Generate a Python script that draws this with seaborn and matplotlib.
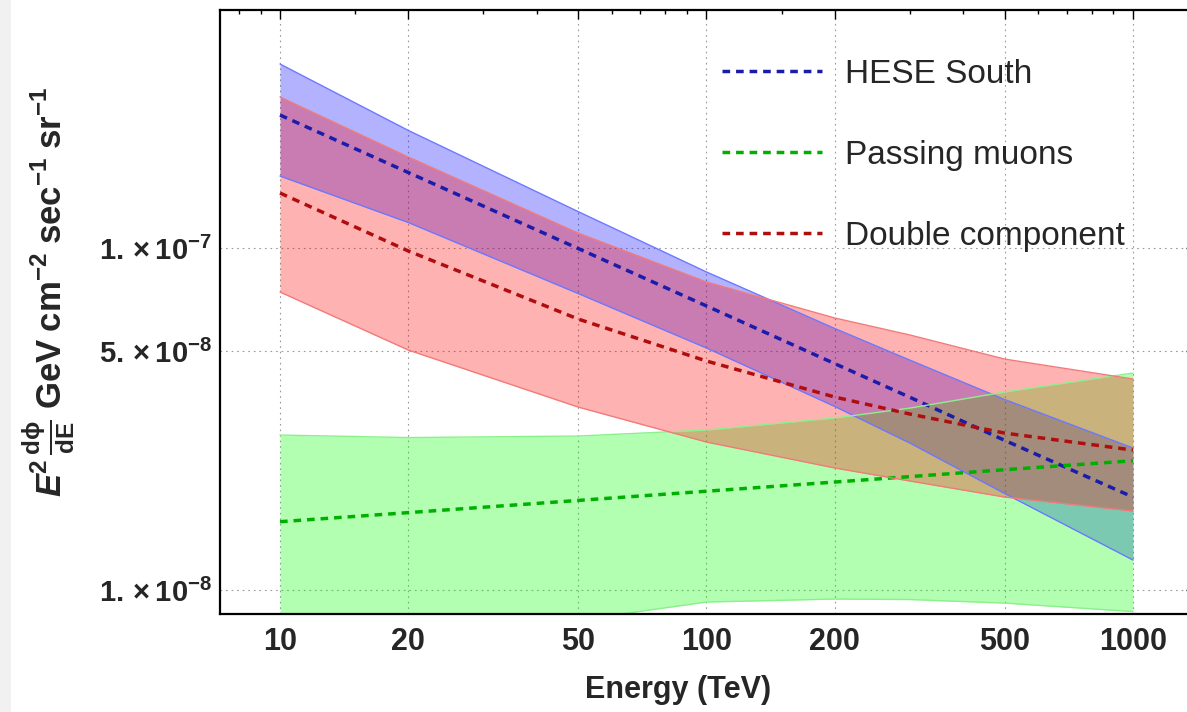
import numpy as np
import pandas as pd
import seaborn as sns
import matplotlib
matplotlib.use("Agg")
import matplotlib.pyplot as plt
from matplotlib.patches import Rectangle
from matplotlib.ticker import NullFormatter

# Energy grid (TeV) at which the fluxes are tabulated
energy = [10, 20, 50, 100, 200, 300, 500, 1000]

# HESE South: best fit and 1-sigma band (E^2 dphi/dE, GeV cm^-2 s^-1 sr^-1)
hese_mid = [2.448e-7, 1.662e-7, 9.97e-8, 6.77e-8, 4.59e-8, 3.66e-8, 2.74e-8, 1.870e-8]
hese_hi = [3.451e-7, 2.206e-7, 1.278e-7, 8.51e-8, 5.815e-8, 4.70e-8, 3.607e-8, 2.602e-8]
hese_lo = [1.623e-7, 1.187e-7, 7.362e-8, 5.10e-8, 3.44e-8, 2.689e-8, 1.916e-8, 1.224e-8]

# Passing muons
muon_mid = [1.584e-8, 1.684e-8, 1.828e-8, 1.945e-8, 2.069e-8, 2.146e-8, 2.248e-8, 2.388e-8]
muon_hi = [2.839e-8, 2.791e-8, 2.82e-8, 2.936e-8, 3.184e-8, 3.404e-8, 3.793e-8, 4.31e-8]
muon_lo = [5.757e-9, 6.766e-9, 8.17e-9, 9.224e-9, 9.412e-9, 9.38e-9, 9.16e-9, 8.65e-9]

# Double component fit
double_mid = [1.448e-7, 9.80e-8, 6.20e-8, 4.673e-8, 3.666e-8, 3.270e-8, 2.877e-8, 2.566e-8]
double_hi = [2.764e-7, 1.845e-7, 1.106e-7, 7.955e-8, 6.242e-8, 5.567e-8, 4.735e-8, 4.14e-8]
double_lo = [7.436e-8, 5.03e-8, 3.428e-8, 2.708e-8, 2.274e-8, 2.083e-8, 1.870e-8, 1.702e-8]

labels = ["HESE South", "Passing muons", "Double component"]

x_major = [10, 20, 50, 100, 200, 500, 1000]
x_minor = [8, 9, 15, 30, 40, 60, 70, 80, 90, 150, 300, 400, 600, 700, 800, 900]
y_major = [1e-8, 5e-8, 1e-7]
y_major_labels = [r"$\mathbf{1.\times10^{-8}}$", r"$\mathbf{5.\times10^{-8}}$",
                  r"$\mathbf{1.\times10^{-7}}$"]
y_minor = [9e-9, 2e-8, 3e-8, 4e-8, 6e-8, 7e-8, 8e-8, 9e-8, 2e-7, 3e-7, 4e-7]

sns.set_theme(style="white")
plt.rcParams.update({
    "font.family": ["Liberation Sans", "DejaVu Sans"],
    "mathtext.fontset": "custom",
    "mathtext.rm": "Liberation Sans",
    "mathtext.it": "Liberation Sans:italic",
    "mathtext.bf": "Liberation Sans:bold",
    "mathtext.bfit": "Liberation Sans:italic:bold",
    "mathtext.sf": "Liberation Sans",
    "mathtext.fallback": "stixsans",
})

W, H = 1187, 712
fig = plt.figure(figsize=(W / 100, H / 100), dpi=100)
fig.patches.append(Rectangle((0, 0), 11 / W, 1, transform=fig.transFigure,
                             facecolor="#f1f1f1", edgecolor="none", zorder=0))

ax = fig.add_axes([220 / W, (H - 614) / H, (1195 - 220) / W, 604 / H])
ax.set_xscale("log")
ax.set_yscale("log")

series = [
    (hese_mid, hese_lo, hese_hi, "#0000ff", "#6b78ff", "#1c1cab"),
    (muon_mid, muon_lo, muon_hi, "#00ff00", "#8bf08b", "#00b000"),
    (double_mid, double_lo, double_hi, "#ff0000", "#f27a7a", "#b00e0e"),
]

dash = (0, (2.2, 1.7))
for (mid, lo, hi, fill_c, edge_c, line_c), lab in zip(series, labels):
    ax.fill_between(energy, lo, hi, color=fill_c, alpha=0.3, linewidth=0)
    ax.plot(energy, hi, color=edge_c, lw=1.0)
    ax.plot(energy, lo, color=edge_c, lw=1.0)
    sns.lineplot(x=energy, y=mid, ax=ax, color=line_c, lw=2.5,
                 linestyle=dash, label=lab, sort=False)

ax.set_xlim(7.232, 1398)
ax.set_ylim(8.51e-9, 4.965e-7)

ax.set_xticks(x_major, [str(v) for v in x_major])
ax.set_xticks(x_minor, minor=True)
ax.set_yticks(y_major, y_major_labels)
ax.set_yticks(y_minor, minor=True)
ax.xaxis.set_minor_formatter(NullFormatter())
ax.yaxis.set_minor_formatter(NullFormatter())

ax.tick_params(which="both", direction="in", top=True, right=True,
               color="black", width=1.0)
ax.tick_params(which="major", length=6.5)
ax.tick_params(which="minor", length=3.0)
ax.tick_params(axis="x", which="major", pad=9, labelsize=22)
ax.tick_params(axis="y", which="major", pad=6, labelsize=21)
for t in ax.get_xticklabels():
    t.set_fontweight("bold")

ax.grid(True, which="major", color="#9a9a9a", lw=0.8, linestyle=(0, (1.5, 3.5)))
ax.set_axisbelow(True)
for s in ax.spines.values():
    s.set_color("black")
    s.set_linewidth(1.6)

ax.set_xlabel("")
ax.set_ylabel("")
fig.text(678 / W, 1 - 690 / H, "Energy (TeV)", fontsize=22, fontweight="bold",
         ha="center", va="center")
fig.text(49 / W, 1 - 292 / H,
         r"$\mathbfit{E}^{\mathbf{2}}\,\frac{\mathbf{d}\mathbf{\phi}}{\mathbf{dE}}\;"
         r"\mathbf{GeV\;cm^{-2}\;sec^{-1}\;sr^{-1}}$",
         fontsize=25, rotation=90, ha="center", va="center")

leg = ax.legend(loc="upper left", bbox_to_anchor=(722 / W, 1 - 59 / H),
                bbox_transform=fig.transFigure, frameon=False, fontsize=24,
                handlelength=3.0, handletextpad=0.68, labelspacing=1.5,
                borderpad=0, borderaxespad=0)

fig.savefig("out.png", dpi=100)
